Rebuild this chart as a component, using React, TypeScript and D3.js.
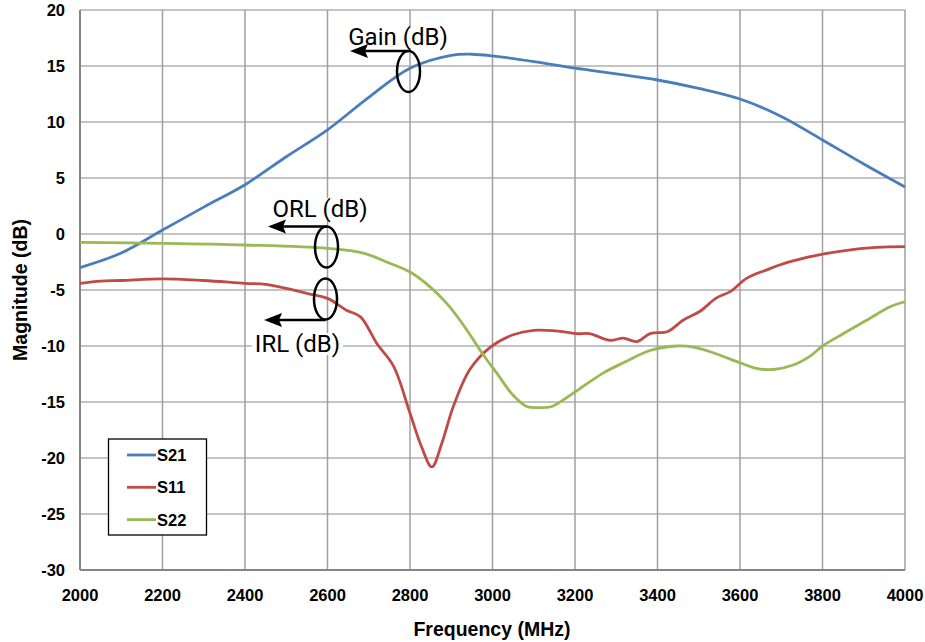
import React, { useEffect, useRef } from 'react';
import * as d3 from 'd3';

const W = 925;
const H = 642;

const xTicks = [2000, 2200, 2400, 2600, 2800, 3000, 3200, 3400, 3600, 3800, 4000];
const yTicks = [20, 15, 10, 5, 0, -5, -10, -15, -20, -25, -30];

// S21 gain
const s21Freq = [2000, 2100, 2200, 2300, 2400, 2500, 2600, 2700, 2800, 2900, 2950, 3000, 3100, 3200, 3300, 3400, 3500, 3600, 3700, 3800, 3900, 4000];
const s21Val = [-3.0, -1.7, 0.35, 2.4, 4.4, 6.9, 9.3, 12.2, 14.8, 15.95, 16.05, 15.9, 15.4, 14.8, 14.3, 13.75, 13.0, 12.05, 10.5, 8.4, 6.25, 4.2];

// S11 input return loss
const s11Freq = [2000, 2050, 2100, 2200, 2300, 2400, 2450, 2500, 2550, 2600, 2646, 2680, 2720, 2760, 2800, 2828, 2853, 2877, 2905, 2945, 2995, 3050, 3100, 3165, 3205, 3235, 3285, 3317, 3350, 3382, 3425, 3462, 3503, 3543, 3576, 3616, 3665, 3713, 3786, 3850, 3931, 4000];
const s11Val = [-4.4, -4.2, -4.15, -4.0, -4.15, -4.4, -4.5, -4.85, -5.3, -5.75, -6.8, -7.4, -9.8, -11.8, -16.0, -19.0, -20.8, -18.7, -15.4, -12.1, -10.1, -9.0, -8.6, -8.7, -8.9, -8.9, -9.5, -9.3, -9.6, -8.9, -8.7, -7.7, -6.9, -5.7, -5.15, -3.96, -3.2, -2.56, -1.9, -1.5, -1.2, -1.13];

// S22 output return loss
const s22Freq = [2000, 2200, 2400, 2600, 2687, 2743, 2800, 2848, 2889, 2929, 2978, 3010, 3050, 3083, 3115, 3144, 3172, 3212, 3269, 3317, 3382, 3447, 3487, 3535, 3600, 3640, 3681, 3729, 3770, 3800, 3850, 3907, 3964, 4000];
const s22Val = [-0.75, -0.83, -0.98, -1.28, -1.7, -2.5, -3.4, -4.7, -6.2, -8.1, -10.8, -12.4, -14.4, -15.4, -15.5, -15.4, -14.8, -13.8, -12.4, -11.5, -10.4, -10.0, -10.1, -10.6, -11.5, -12.0, -12.1, -11.7, -10.9, -10.0, -8.9, -7.7, -6.5, -6.05];

const seriesNames = ['S21', 'S11', 'S22'];
const seriesColors = ['#4a7ebb', '#be4b48', '#98b954'];

const App: React.FC = () => {
  const svgRef = useRef<SVGSVGElement>(null);

  useEffect(() => {
    if (!svgRef.current) return;
    const svg = d3.select(svgRef.current);
    svg.selectAll('*').remove();

    const margin = { top: 10, right: 20, bottom: 72, left: 80 };
    const innerW = W - margin.left - margin.right;
    const innerH = H - margin.top - margin.bottom;

    const x = d3.scaleLinear().domain([2000, 4000]).range([margin.left, margin.left + innerW]);
    const y = d3.scaleLinear().domain([-30, 20]).range([margin.top + innerH, margin.top]);

    const tickFont = '"Liberation Sans", Arial, sans-serif';

    // grid
    const grid = svg.append('g');
    grid.selectAll('.hgrid')
      .data(yTicks)
      .enter()
      .append('line')
      .attr('x1', x(2000))
      .attr('x2', x(4000))
      .attr('y1', d => y(d))
      .attr('y2', d => y(d))
      .style('stroke', '#b0b0b0')
      .style('stroke-width', 1.5);
    grid.selectAll('.vgrid')
      .data(xTicks)
      .enter()
      .append('line')
      .attr('x1', d => x(d))
      .attr('x2', d => x(d))
      .attr('y1', y(20))
      .attr('y2', y(-30))
      .style('stroke', '#a0a0a0')
      .style('stroke-width', 1.5);

    // axis lines
    svg.append('line')
      .attr('x1', x(2000)).attr('x2', x(2000))
      .attr('y1', y(20)).attr('y2', y(-30))
      .style('stroke', '#868686').style('stroke-width', 2);
    svg.append('line')
      .attr('x1', x(2000)).attr('x2', x(4000))
      .attr('y1', y(-30)).attr('y2', y(-30))
      .style('stroke', '#868686').style('stroke-width', 2);

    // tick labels
    svg.append('g').selectAll('text')
      .data(yTicks)
      .enter()
      .append('text')
      .attr('x', 65)
      .attr('y', d => y(d) + 6)
      .attr('text-anchor', 'end')
      .style('font-family', tickFont)
      .style('font-weight', 'bold')
      .style('font-size', '16.5px')
      .style('fill', '#000')
      .text(d => String(d));
    svg.append('g').selectAll('text')
      .data(xTicks)
      .enter()
      .append('text')
      .attr('x', d => x(d))
      .attr('y', 601)
      .attr('text-anchor', 'middle')
      .style('font-family', tickFont)
      .style('font-weight', 'bold')
      .style('font-size', '16.5px')
      .style('fill', '#000')
      .text(d => String(d));

    // axis titles
    svg.append('text')
      .attr('x', 492)
      .attr('y', 636)
      .attr('text-anchor', 'middle')
      .style('font-family', tickFont)
      .style('font-weight', 'bold')
      .style('font-size', '19.5px')
      .text('Frequency (MHz)');
    svg.append('text')
      .attr('transform', `translate(27,${y(-5)}) rotate(-90)`)
      .attr('text-anchor', 'middle')
      .style('font-family', tickFont)
      .style('font-weight', 'bold')
      .style('font-size', '19.5px')
      .text('Magnitude (dB)');

    // series
    const line = d3.line<[number, number]>()
      .x(d => x(d[0]))
      .y(d => y(d[1]))
      .curve(d3.curveCatmullRom.alpha(0.5));

    const allSeries: [number, number][][] = [
      s21Freq.map((f, i) => [f, s21Val[i]]),
      s11Freq.map((f, i) => [f, s11Val[i]]),
      s22Freq.map((f, i) => [f, s22Val[i]])
    ];

    allSeries.forEach((pts, i) => {
      svg.append('path')
        .attr('d', line(pts) || '')
        .style('fill', 'none')
        .style('stroke', seriesColors[i])
        .style('stroke-width', 2.8)
        .style('stroke-linejoin', 'round');
    });

    // annotations
    const annFont = 'Roboto, "Noto Sans", sans-serif';
    const annotations = [
      { label: 'Gain (dB)', tx: 398, ty: 45, cx: 408.5, cy: 71.5, arrowY: 51, tipX: 350 },
      { label: 'ORL (dB)', tx: 320, ty: 217, cx: 326.5, cy: 247, arrowY: 226.5, tipX: 268 },
      { label: 'IRL (dB)', tx: 297.5, ty: 352, cx: 325.5, cy: 299, arrowY: 320, tipX: 264 }
    ];

    annotations.forEach(a => {
      const t = svg.append('text')
        .attr('x', a.tx)
        .attr('y', a.ty)
        .attr('text-anchor', 'middle')
        .style('font-family', annFont)
        .style('font-size', '24px')
        .style('fill', '#000')
        .text(a.label);
      const bb = (t.node() as SVGTextElement).getBBox();
      svg.insert('rect', () => t.node() as any)
        .attr('x', bb.x - 3)
        .attr('y', bb.y + 3)
        .attr('width', bb.width + 6)
        .attr('height', bb.height - 6)
        .style('fill', '#fff');

      svg.append('ellipse')
        .attr('cx', a.cx)
        .attr('cy', a.cy)
        .attr('rx', 11.5)
        .attr('ry', 20.5)
        .style('fill', 'none')
        .style('stroke', '#000')
        .style('stroke-width', 2.5);
      svg.append('line')
        .attr('x1', a.cx)
        .attr('x2', a.tipX + 14)
        .attr('y1', a.arrowY)
        .attr('y2', a.arrowY)
        .style('stroke', '#000')
        .style('stroke-width', 2.5);
      svg.append('path')
        .attr('d', `M${a.tipX},${a.arrowY} L${a.tipX + 18},${a.arrowY - 7} L${a.tipX + 15},${a.arrowY} L${a.tipX + 18},${a.arrowY + 7} Z`)
        .style('fill', '#000');
    });

    // legend
    const lg = svg.append('g');
    lg.append('rect')
      .attr('x', 108.5)
      .attr('y', 439)
      .attr('width', 98)
      .attr('height', 96)
      .style('fill', '#fff')
      .style('stroke', '#000')
      .style('stroke-width', 1.3);
    seriesNames.forEach((name, i) => {
      const ly = 455 + i * 32.3;
      lg.append('line')
        .attr('x1', 127)
        .attr('x2', 156)
        .attr('y1', ly)
        .attr('y2', ly)
        .style('stroke', seriesColors[i])
        .style('stroke-width', 2.8);
      lg.append('text')
        .attr('x', 157)
        .attr('y', ly + 6)
        .style('font-family', tickFont)
        .style('font-weight', 'bold')
        .style('font-size', '16.5px')
        .text(name);
    });
  }, []);

  return (
    <svg
      ref={svgRef}
      width={W}
      height={H}
      style={{ position: 'absolute', left: 0, top: 0, background: '#fff', display: 'block' }}
    />
  );
};

export default App;
